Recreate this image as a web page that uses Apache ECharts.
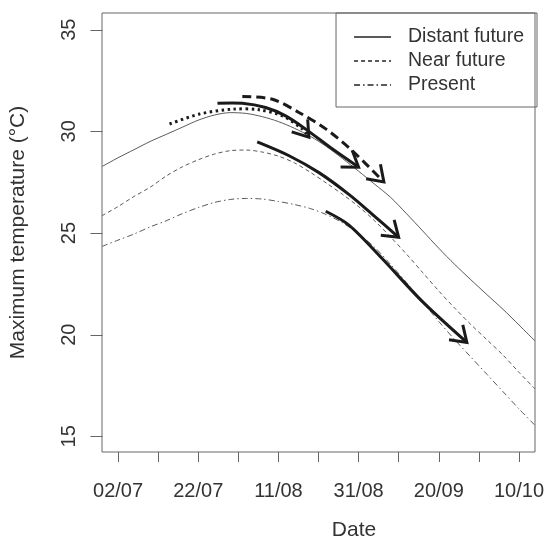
<!DOCTYPE html>
<html><head><meta charset="utf-8">
<script src="https://cdn.jsdelivr.net/npm/echarts@6/dist/echarts.min.js"></script>
<style>html,body{margin:0;padding:0;background:#fff}#c{width:547px;height:546px}</style>
</head><body><div id="c"></div>
<script>
// Days counted from 02/07
const days = [-4,0,4,8,12,16,20,24,28,32,36,40,44,48,52,56,60,64,68,72,76,80,84,88,92,96,100,104];
const distantFuture = [28.27,28.7,29.1,29.5,29.85,30.2,30.55,30.8,30.92,30.88,30.72,30.48,30.15,29.75,29.25,28.66,28.04,27.4,26.75,25.94,25.1,24.25,23.45,22.7,21.97,21.25,20.48,19.69];
const nearFuture = [25.85,26.3,26.8,27.25,27.8,28.25,28.6,28.88,29.05,29.08,28.98,28.78,28.45,27.98,27.45,26.9,26.3,25.6,24.8,23.95,23.05,22.15,21.3,20.5,19.75,19.0,18.15,17.33];
const present = [24.34,24.65,24.95,25.3,25.6,25.95,26.25,26.5,26.65,26.7,26.67,26.55,26.4,26.2,25.9,25.5,24.95,24.3,23.45,22.55,21.6,20.65,19.75,18.9,18.05,17.2,16.35,15.54];

const xTickDays = [0,10,20,30,40,50,60,70,80,90,100];
const xLabelDays = [0,20,40,60,80,100];
const xLabels = ['02/07','22/07','11/08','31/08','20/09','10/10'];
const yTicks = [15,20,25,30,35];

// Annotation arrows (day, temperature)
const arrowDotted = [[12.85,30.36],[20.3,30.85],[28.6,31.09],[35.2,31.06],[41.0,30.76],[46.0,30.11],[47.6,29.71]];
const arrowSolidTop = [[24.8,31.38],[31.0,31.38],[36.8,31.17],[41.8,30.76],[46.8,30.11],[53.4,29.14],[60.0,28.24]];
const arrowDashed = [[31.0,31.71],[38.5,31.58],[45.1,30.93],[51.8,30.12],[58.4,29.05],[66.3,27.51]];
const arrowNear = [[34.71,29.48],[42.66,28.8],[50.11,27.97],[57.57,26.9],[63.78,25.86],[69.99,24.79]];
const arrowPresent = [[51.8,26.07],[57.6,25.39],[65.8,23.76],[75.8,21.65],[87.0,19.62]];

const arrows = [
  {pts: arrowDotted, dash: [2.5,3.5]},
  {pts: arrowSolidTop, dash: null},
  {pts: arrowDashed, dash: [9,5]},
  {pts: arrowNear, dash: null},
  {pts: arrowPresent, dash: null}
];

const X_MIN = -4, X_MAX = 104, Y_MIN = 14.23, Y_MAX = 35.82;
const FONT = '"Liberation Sans", Arial, sans-serif';
const TXT = '#333';
const AX = '#666';
const LINE = '#5a5a5a';

const chart = echarts.init(document.getElementById('c'), null, {renderer: 'canvas'});

function pairs(vals){ return days.map((d,i)=>[d, vals[i]]); }

chart.setOption({
  animation: false,
  backgroundColor: '#fff',
  textStyle: {fontFamily: FONT},
  grid: {left: 102, right: 10, top: 13, bottom: 91, show: true, borderColor: AX, borderWidth: 1, backgroundColor: 'transparent'},
  legend: {
    orient: 'vertical', right: 10, top: 13,
    borderColor: AX, borderWidth: 1,
    padding: [14, 13, 12, 17],
    itemWidth: 37, itemHeight: 14, itemGap: 4,
    selectedMode: false,
    itemStyle: {opacity: 0},
    textStyle: {fontSize: 19.5, color: TXT, fontFamily: FONT, padding: [0,0,0,12], lineHeight: 20},
    data: ['Distant future','Near future','Present']
  },
  xAxis: {
    type: 'value', min: X_MIN, max: X_MAX,
    name: 'Date', nameLocation: 'middle', nameGap: 68,
    nameTextStyle: {fontSize: 21, color: TXT, fontFamily: FONT, padding: [0,0,0,71]},
    axisLine: {show: false}, splitLine: {show: false},
    axisTick: {show: true, inside: false, customValues: xTickDays, length: 10, lineStyle: {color: AX}},
    axisLabel: {customValues: xLabelDays, margin: 29, fontSize: 20, color: TXT, fontFamily: FONT,
      formatter: v => xLabels[xLabelDays.indexOf(v)] || ''}
  },
  yAxis: {
    type: 'value', min: Y_MIN, max: Y_MAX,
    name: 'Maximum temperature (°C)', nameLocation: 'middle', nameGap: 73,
    nameTextStyle: {fontSize: 21, color: TXT, fontFamily: FONT},
    axisLine: {show: false}, splitLine: {show: false},
    axisTick: {show: false},
    axisLabel: {customValues: yTicks, rotate: 90, margin: 23, fontSize: 20, color: TXT, fontFamily: FONT}
  },
  series: [
    {type: 'line', name: 'Distant future', data: pairs(distantFuture), symbol: 'none', smooth: 0.3,
      lineStyle: {color: LINE, width: 1, type: 'solid'}, itemStyle: {color: LINE}, silent: true},
    {type: 'line', name: 'Near future', data: pairs(nearFuture), symbol: 'none', smooth: 0.3,
      lineStyle: {color: LINE, width: 1, type: [4,3]}, itemStyle: {color: LINE}, silent: true},
    {type: 'line', name: 'Present', data: pairs(present), symbol: 'none', smooth: 0.3,
      lineStyle: {color: LINE, width: 1, type: [6,3,1.5,3]}, itemStyle: {color: LINE}, silent: true},
    // y-axis tick marks (outward), positioned through the axis scale
    {type: 'custom', name: 'yTicks', silent: true, clip: false, z: 1,
      data: yTicks.map(v => [X_MIN, v]),
      renderItem: function(params, api){
        const p = api.coord([X_MIN, api.value(1)]);
        const x = Math.round(p[0]) + 0.5, y = Math.round(p[1]) + 0.5;
        return {type: 'line', shape: {x1: x - 12, y1: y, x2: x, y2: y},
          style: {stroke: AX, lineWidth: 1}};
      }
    },
    {type: 'custom', name: 'arrows', silent: true, z: 5,
      data: arrows.map((a,i)=>[a.pts[0][0], a.pts[0][1], i]),
      renderItem: function(params, api){
        const a = arrows[params.dataIndex];
        const pts = a.pts.map(p => api.coord(p));
        const n = pts.length;
        const tip = pts[n-1], prev = pts[n-2];
        const ang = Math.atan2(tip[1]-prev[1], tip[0]-prev[0]);
        const L = 18, spread = 0.6;
        const w1 = [tip[0] + L*Math.cos(ang+Math.PI-spread), tip[1] + L*Math.sin(ang+Math.PI-spread)];
        const w2 = [tip[0] + L*Math.cos(ang+Math.PI+spread), tip[1] + L*Math.sin(ang+Math.PI+spread)];
        return {type: 'group', children: [
          {type: 'polyline', shape: {points: pts, smooth: 0.3},
            style: {stroke: '#1a1a1a', lineWidth: 3, fill: null, lineDash: a.dash || null}},
          {type: 'polyline', shape: {points: [w1, tip, w2]},
            style: {stroke: '#1a1a1a', lineWidth: 3, fill: null}}
        ]};
      }
    }
  ]
});
</script>
</body></html>
